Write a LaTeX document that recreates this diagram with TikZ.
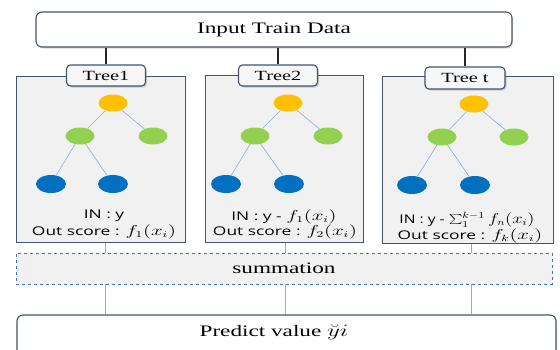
\documentclass[tikz,border=0pt]{standalone}
\usepackage{graphicx}
\usepackage{fontspec}
\setmainfont{Liberation Serif}
\newfontfamily\sansf{Open Sans}
\usetikzlibrary{shapes.geometric,shadows}
\newcommand{\hstretch}[1]{\scalebox{1.45}[1]{#1}}
\newcommand{\mth}[1]{{\fontsize{13.5}{15}\selectfont$#1$}}
\definecolor{boxline}{HTML}{44546A}
\definecolor{treefill}{HTML}{F1F1F1}
\definecolor{edgeblue}{HTML}{8FAADC}
\definecolor{dashblue}{HTML}{4472C4}
\definecolor{nyellow}{HTML}{FFC000}
\definecolor{ngreen}{HTML}{92D050}
\definecolor{nblue}{HTML}{0070C0}
\begin{document}
\begin{tikzpicture}[x=1pt,y=-1pt,
  bigbox/.style={draw=boxline, line width=1.1pt, rounded corners=6pt, fill=white,
    drop shadow={shadow xshift=1.2pt, shadow yshift=-1.5pt, opacity=0.3}, inner sep=0pt},
  treebox/.style={draw=boxline, line width=1pt, fill=treefill, inner sep=0pt},
  lbl/.style={draw=boxline, line width=1.1pt, rounded corners=4pt, fill=treefill!60!white,
    drop shadow={shadow xshift=1.5pt, shadow yshift=-1.5pt, opacity=0.35},
    minimum width=79pt, minimum height=21pt, inner sep=0pt, font=\fontsize{14}{16}\selectfont},
  sumbox/.style={draw=dashblue, dashed, line width=0.8pt, fill=treefill, inner sep=0pt,
    font=\fontsize{16}{18}\selectfont},
  nd/.style={ellipse, minimum width=29pt, minimum height=17pt, inner sep=0pt},
  ny/.style={nd, fill=nyellow},
  ng/.style={nd, fill=ngreen},
  nb/.style={nd, fill=nblue, minimum width=30pt, minimum height=18pt},
  tedge/.style={draw=edgeblue, line width=0.6pt},
  topconn/.style={draw=black!85, line width=1.1pt},
  botconn/.style={draw=edgeblue, line width=0.6pt},
  txt/.style={inner sep=0pt, font=\sansf\fontsize{12}{14}\selectfont},
  big/.style={inner sep=0pt, font=\fontsize{16}{18}\selectfont}
]
\useasboundingbox (0,0) rectangle (560,349);
\clip (0,0) rectangle (560,349);

% input box
\node[bigbox, minimum width=476pt, minimum height=35pt, font=\fontsize{16}{18}\selectfont] (input) at (274,29.5) {\hstretch{Input Train Data}};

% tree boxes
\node[treebox, minimum width=169pt, minimum height=166pt] (t1) at (100.5,159) {};
\node[treebox, minimum width=158pt, minimum height=167pt] (t2) at (284,158.5) {};
\node[treebox, minimum width=171pt, minimum height=167pt] (t3) at (467.5,159.5) {};

% tree labels
\node[lbl] (l1) at (106,75.5) {\hstretch{Tree1}};
\node[lbl] (l2) at (278,75.5) {\hstretch{Tree2}};
\node[lbl, minimum width=80pt, minimum height=22pt] (l3) at (465,78) {\hstretch{Tree t}};

\draw[topconn] (input.south -| l1) -- (l1.north);
\draw[topconn] (input.south -| l2) -- (l2.north);
\draw[topconn] (input.south -| l3) -- (l3.north);

% tree 1
\node[ny] (a1) at (113,103) {};
\node[ng] (a2) at (80,136) {};
\node[ng] (a3) at (153,136) {};
\node[nb] (a4) at (51,184) {};
\node[nb] (a5) at (113,184) {};
\draw[tedge] (a1) -- (a2); \draw[tedge] (a1) -- (a3);
\draw[tedge] (a2) -- (a4); \draw[tedge] (a2) -- (a5);
\node[txt] (a6) at (104,216) {\hstretch{IN : y}};
\node[txt] (a7) at (104,232) {\hstretch{Out score : \mth{f_1(x_i)}}};

% tree 2
\node[ny] (b1) at (288,103) {};
\node[ng] (b2) at (255,136) {};
\node[ng] (b3) at (328,136) {};
\node[nb] (b4) at (226,184) {};
\node[nb] (b5) at (289,184) {};
\draw[tedge] (b1) -- (b2); \draw[tedge] (b1) -- (b3);
\draw[tedge] (b2) -- (b4); \draw[tedge] (b2) -- (b5);
\node[txt] (b6) at (284,216.5) {\hstretch{IN : y - \mth{f_1(x_i)}}};
\node[txt] (b7) at (285,232) {\hstretch{Out score : \mth{f_2(x_i)}}};

% tree t
\node[ny] (c1) at (474,104) {};
\node[ng] (c2) at (442,137) {};
\node[ng] (c3) at (514,137) {};
\node[nb] (c4) at (412,185) {};
\node[nb] (c5) at (475,185) {};
\draw[tedge] (c1) -- (c2); \draw[tedge] (c1) -- (c3);
\draw[tedge] (c2) -- (c4); \draw[tedge] (c2) -- (c5);
\node[txt] (c6) at (467,219.5) {\scalebox{1.3}[1]{IN : y - \mth{\sum_1^{k-1} f_n(x_i)}}};
\node[txt] (c7) at (470,235.5) {\hstretch{Out score : \mth{f_k(x_i)}}};

% summation
\node[sumbox, minimum width=536pt, minimum height=31pt] (sum) at (284,268.5) {\hstretch{summation}};

% predict
\node[bigbox, minimum width=539pt, minimum height=44pt] (pred) at (286.5,337) {};
\node[big] (ptext) at (274,332) {\hstretch{Predict value $\breve{y}i$}};

% bottom connectors
\coordinate (x1) at (105,0);
\coordinate (x2) at (285,0);
\coordinate (x3) at (471,0);
\draw[botconn] (t1.south -| x1) -- (sum.north -| x1);
\draw[botconn] (t2.south -| x2) -- (sum.north -| x2);
\draw[botconn] (t3.south -| x3) -- (sum.north -| x3);
\draw[botconn] (sum.south -| x1) -- (pred.north -| x1);
\draw[botconn] (sum.south -| x2) -- (pred.north -| x2);
\draw[botconn] (sum.south -| x3) -- (pred.north -| x3);
\end{tikzpicture}
\end{document}
